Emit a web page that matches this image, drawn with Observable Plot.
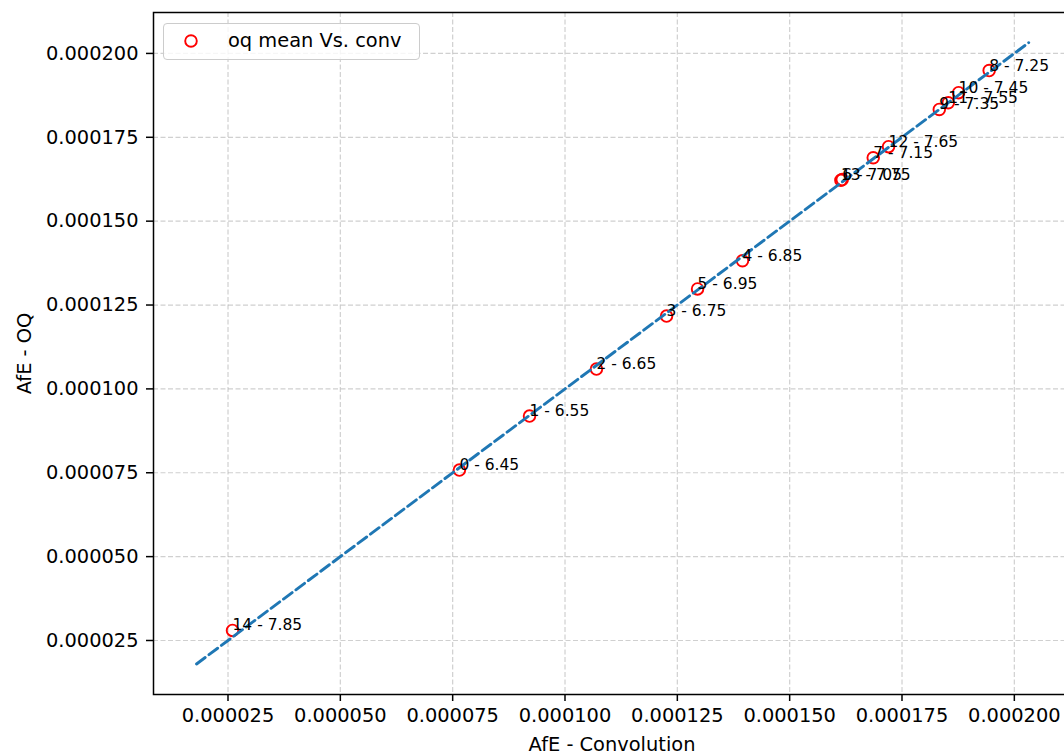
<!DOCTYPE html>
<html><head><meta charset="utf-8">
<script src="https://cdn.jsdelivr.net/npm/d3@7"></script>
<script src="https://cdn.jsdelivr.net/npm/@observablehq/plot@0.6"></script>
<style>
html,body{margin:0;padding:0;background:#fff;overflow:hidden;}
#wrap{position:relative;width:1064px;height:756px;overflow:hidden;font-family:"DejaVu Sans",sans-serif;}
#wrap > svg{display:block;max-width:none !important;width:1074px;height:756px;}
#legend{position:absolute;left:163px;top:22.5px;width:255px;height:35px;border:1px solid #cccccc;border-radius:4px;background:rgba(255,255,255,0.8);box-sizing:content-box;}
#legend svg{position:absolute;left:18px;top:9px;}
#legend span{position:absolute;left:64px;top:5px;font-size:19.4px;color:#000;white-space:nowrap;line-height:24px;}
</style></head><body>
<div id="wrap"><div id="legend"><svg width="18" height="18"><circle cx="9" cy="8" r="5.8" fill="none" stroke="red" stroke-width="1.9"/></svg><span>oq mean Vs. conv</span></div></div>
<script>
// point ids and their temperature tags
const ids = [0, 1, 2, 3, 4, 5, 6, 7, 8, 9, 10, 11, 12, 13, 14];
const temps = ["6.45", "6.55", "6.65", "6.75", "6.85", "6.95", "7.05", "7.15", "7.25", "7.35", "7.45", "7.55", "7.65", "7.75", "7.85"];
// AfE - Convolution (x)
const afeConv = [76.5e-6, 92.1e-6, 107.0e-6, 122.6e-6, 139.5e-6, 129.5e-6, 161.7e-6, 168.6e-6, 194.4e-6, 183.3e-6, 187.6e-6, 185.3e-6, 172.0e-6, 161.4e-6, 26.0e-6];
// AfE - OQ (y)
const afeOQ = [75.8e-6, 91.9e-6, 105.9e-6, 121.7e-6, 138.2e-6, 129.8e-6, 162.4e-6, 168.9e-6, 194.9e-6, 183.3e-6, 188.3e-6, 185.3e-6, 172.2e-6, 162.2e-6, 28.0e-6];
// dashed reference line endpoints
const lineX = [18.0e-6, 203.2e-6];
const lineY = [18.0e-6, 203.2e-6];
// tick values
const xTicks = [25e-6, 50e-6, 75e-6, 100e-6, 125e-6, 150e-6, 175e-6, 200e-6];
const yTicks = [25e-6, 50e-6, 75e-6, 100e-6, 125e-6, 150e-6, 175e-6, 200e-6];
const xLabel = "AfE - Convolution";
const yLabel = "AfE - OQ";

const points = ids.map((id, i) => ({x: afeConv[i], y: afeOQ[i], label: `${id} - ${temps[i]}`}));
const fit = lineX.map((x, i) => ({x, y: lineY[i]}));
const fmt = d => d.toFixed(6);
const gridStyle = {stroke: "#b0b0b0", strokeOpacity: 0.6, strokeDasharray: "5,2.5", strokeWidth: 1.2};

const chart = Plot.plot({
  width: 1074, height: 756,
  marginLeft: 153, marginRight: 4, marginTop: 12, marginBottom: 62,
  style: {fontFamily: "DejaVu Sans", fontSize: "19.4px", color: "#000", background: "transparent", overflow: "visible", maxWidth: "none"},
  x: {domain: [8.42e-6, 212.5e-6]},
  y: {domain: [8.9e-6, 212.2e-6]},
  marks: [
    Plot.gridX(xTicks, gridStyle),
    Plot.gridY(yTicks, gridStyle),
    Plot.axisX(xTicks, {tickFormat: fmt, tickSize: 7, tickPadding: 7, strokeWidth: 1.5, label: null}),
    Plot.axisY(yTicks, {tickFormat: fmt, tickSize: 7, tickPadding: 8, strokeWidth: 1.5, label: null}),
    Plot.dot(points, {x: "x", y: "y", r: 5.8, stroke: "red", strokeWidth: 1.9, fill: "none"}),
    Plot.line(fit, {x: "x", y: "y", stroke: "#1f77b4", strokeWidth: 2.9, strokeDasharray: "10.8,4.7"}),
    Plot.text(points, {x: "x", y: "y", text: "label", textAnchor: "start", lineAnchor: "bottom", fontSize: 15.5, fill: "#000"}),
    Plot.frame({stroke: "#000", strokeWidth: 1.5}),
    Plot.text([xLabel], {frameAnchor: "bottom", dy: 56, textAnchor: "middle", lineAnchor: "bottom", fill: "#000"}),
    Plot.text([yLabel], {frameAnchor: "left", dx: -123, rotate: -90, textAnchor: "middle", lineAnchor: "bottom", fill: "#000"})
  ]
});
const wrap = document.getElementById("wrap");
wrap.insertBefore(chart, wrap.firstChild);
</script>
</body></html>
